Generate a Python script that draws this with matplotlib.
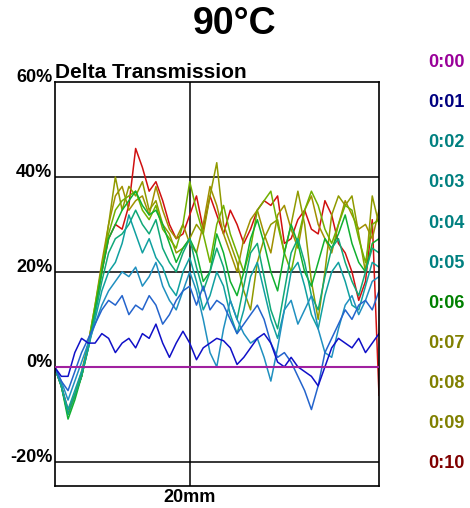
import matplotlib
matplotlib.use("Agg")
import matplotlib.pyplot as plt
import numpy as np

plt.rcParams['font.family'] = ['Liberation Sans', 'DejaVu Sans']

# position along the sample, mm
pos_mm = np.arange(0, 49, 1)

# delta transmission (%) per elapsed time
t000 = [0] * 49
t001 = [0, -2, -2, 3, 6, 5, 5, 7, 6, 3, 5, 6, 4, 7, 6, 9, 5, 2, 5, 7.5, 5, 1.5, 4, 5, 6, 5.5, 4, 0.5, 2, 4,
        6, 7, 5, 1, 0, 2, 0, -1, -2, -4, 0, 4, 6, 5, 4, 6, 3, 5, 7]
t002 = [0, -3, -5, -1, 3, 6, 9, 12, 14, 13, 15, 11, 13, 12, 15, 13, 9, 11, 14, 16, 17, 13, 17, 12, 14, 13, 10, 7, 9, 11,
        13, 10, 5, 2, 3, 1, -2, -5, -9, -4, 3, 6, 9, 12, 10, 13, 14, 12, 16]
t003 = [0, -3, -7, -3, 1, 5, 9, 13, 16, 18, 20, 19, 21, 17, 19, 22, 17, 14, 12, 16, 20, 16, 10, 3, 0, 8, 14, 10, 7, 5,
        6, 2, -3, 4, 12, 14, 9, 12, 15, 8, 3, 2, 8, 13, 15, 11, 14, 18, 19]
t004 = [0, -4, -9, -5, -1, 4, 10, 16, 20, 22, 26, 32, 28, 24, 27, 23, 21, 17, 15, 20, 23, 18, 12, 15, 20, 17, 11, 7, 12, 19,
        22, 16, 10, 6, 12, 20, 22, 17, 11, 8, 15, 20, 22, 18, 13, 12, 17, 22, 21]
t005 = [0, -4, -10, -6, -2, 4, 11, 18, 24, 27, 28, 30, 33, 30, 28, 31, 25, 22, 20, 24, 27, 21, 16, 20, 25, 21, 14, 10, 17, 24,
        26, 19, 12, 8, 16, 24, 27, 22, 15, 12, 19, 25, 27, 22, 18, 15, 20, 25, 24]
t006 = [0, -4, -11, -7, -2, 4, 12, 20, 27, 30, 33, 35, 37, 34, 32, 33, 30, 26, 22, 25, 27, 24, 18, 20, 28, 24, 18, 15, 20, 27,
        31, 26, 20, 16, 24, 30, 26, 20, 17, 22, 27, 25, 28, 32, 26, 22, 20, 26, 27]
t007 = [0, -4, -10, -6, -2, 5, 13, 21, 28, 33, 35, 36, 37, 33, 31, 34, 29, 27, 25, 30, 39, 33, 28, 22, 30, 34, 28, 24, 20, 25,
        33, 35, 37, 30, 24, 20, 27, 33, 37, 34, 29, 26, 30, 34, 33, 27, 22, 30, 31]
t008 = [0, -4, -10, -6, -2, 4, 12, 20, 30, 40, 33, 38, 36, 39, 33, 35, 30, 28, 24, 25, 27, 30, 28, 36, 43, 30, 26, 22, 16, 12,
        22, 27, 30, 31, 24, 30, 37, 30, 18, 10, 20, 32, 36, 34, 36, 28, 20, 36, 30]
t009 = [0, -4, -10, -6, -1, 5, 13, 22, 30, 36, 38, 33, 35, 36, 32, 38, 33, 29, 27, 30, 26, 24, 30, 38, 34, 28, 24, 20, 27, 31,
        33, 28, 24, 32, 34, 29, 25, 33, 36, 30, 27, 24, 30, 35, 32, 29, 30, 27, 33]
t010 = [0, -4, -9, -6, -2, 5, 12, 20, 27, 30, 29, 34, 46, 42, 37, 39, 35, 30, 27, 28, 32, 36, 29, 36, 32, 28, 33, 30, 26, 29,
        33, 35, 34, 36, 26, 27, 31, 33, 29, 28, 35, 32, 26, 24, 20, 14, 18, 31, -6]

series = [t000, t001, t002, t003, t004, t005, t006, t007, t008, t009, t010]
labels = ['0:00', '0:01', '0:02', '0:03', '0:04', '0:05', '0:06', '0:07', '0:08', '0:09', '0:10']
line_colors = ['#a020a0', '#1010c8', '#2464cc', '#2090c0', '#10a0a0', '#10a878',
               '#10b030', '#70b000', '#909a00', '#a09000', '#d01010']
label_colors = ['#990099', '#000080', '#008080', '#008080', '#008080', '#008080',
                '#008000', '#808000', '#808000', '#808000', '#800000']
yticks = [60, 40, 20, 0, -20]

fig = plt.figure(figsize=(4.7, 5.08), dpi=100)
ax = fig.add_axes([0.116, 0.0433, 0.6904, 0.7953])
ax.set_xlim(0, 48)
ax.set_ylim(-25.1, 60)

# reference grid
for v in [40, 20, -20]:
    ax.axhline(v, color='black', lw=1.1, zorder=1)
ax.axvline(20, color='black', lw=1.1, zorder=1)

# data lines, 0:00 drawn as baseline
for i in range(len(series) - 1, 0, -1):
    ax.plot(pos_mm, series[i], color=line_colors[i], lw=1.1, zorder=2)
ax.plot(pos_mm, series[0], color=line_colors[0], lw=1.5, zorder=3)

for sp in ax.spines.values():
    sp.set_color('black')
    sp.set_linewidth(1.2)
ax.set_xticks([])
ax.set_yticks([])

for v in yticks:
    ax.text(-0.35, v, '%d%%' % v, ha='right', va='baseline', fontsize=13, fontweight='bold')
fig.text(190 / 470, 1 - 497 / 508, '20mm', ha='center', va='center', fontsize=13, fontweight='bold')

fig.text(0.5, 0.952, '90°C', ha='center', va='center', fontsize=27, fontweight='bold')
fig.text(0.116, 0.838, 'Delta Transmission', ha='left', va='bottom', fontsize=15, fontweight='bold')

for i, lab in enumerate(labels):
    yp = 62.5 + 40.15 * i
    fig.text(428 / 470, 1 - yp / 508, lab, ha='left', va='center', fontsize=13,
             fontweight='bold', color=label_colors[i])

fig.savefig('out.png', dpi=100)
